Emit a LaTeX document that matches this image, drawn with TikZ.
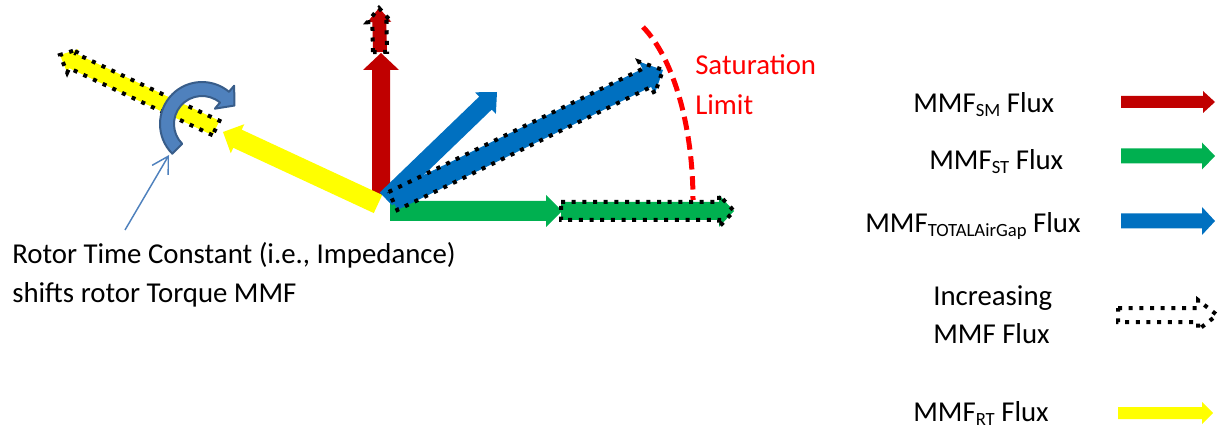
\documentclass[tikz,border=0pt]{standalone}
\usepackage{fontspec}
\setmainfont{Carlito}
\usetikzlibrary{calc,arrows.meta}
\definecolor{mred}{RGB}{192,0,0}
\definecolor{mgreen}{RGB}{0,176,80}
\definecolor{mblue}{RGB}{0,112,192}
\definecolor{myellow}{RGB}{255,255,0}
\definecolor{cfill}{RGB}{79,129,189}
\definecolor{cline}{RGB}{56,93,138}
\definecolor{satred}{RGB}{255,0,0}
\newcommand\barrow[6][]{%
  \pgfmathsetmacro\bsw{#4*0.75}%
  \pgfmathsetmacro\bhw{#5*0.75}%
  \pgfmathsetmacro\bhl{#6*0.75}%
  \coordinate (bq) at ($(#3)!\bhl pt!(#2)$);
  \path[#1] ($(#2)!\bsw pt!90:(#3)$) -- ($(bq)!\bsw pt!90:(#3)$) -- ($(bq)!\bhw pt!90:(#3)$) -- (#3)
    -- ($(bq)!\bhw pt!-90:(#3)$) -- ($(bq)!\bsw pt!-90:(#3)$) -- ($(#2)!\bsw pt!-90:(#3)$) -- cycle;
}
\newcommand\subt[1]{\raisebox{-3pt}{\fontsize{14}{14}\selectfont #1}}
\tikzset{
  dotline/.style={draw=black, line width=3pt, dash pattern=on 3pt off 5pt},
  txt/.style={font=\fontsize{21.6}{29}\selectfont, inner sep=0pt, anchor=base west},
  thinarrow/.style={draw=cfill, line width=1.1pt, -{Straight Barb[length=12pt,width=14pt]}},
  satline/.style={draw=satred, line width=3.75pt, dash pattern=on 10pt off 5pt},
  curvearrow/.style={fill=cfill, draw=cline, line width=1.5pt, line join=round},
}
\begin{document}
\begin{tikzpicture}[x=0.75pt,y=-0.75pt]
\useasboundingbox (0,0) rectangle (1225,431);
% vector endpoints
\coordinate (rA) at (381,195); \coordinate (rB) at (381,53);
\coordinate (rdA) at (380,52); \coordinate (rdB) at (379,8);
\coordinate (yA) at (378,204); \coordinate (yB) at (223,132);
\coordinate (ydA) at (216,128); \coordinate (ydB) at (60,55);
\coordinate (gA) at (390,211); \coordinate (gB) at (562,211);
\coordinate (gdA) at (561,211); \coordinate (gdB) at (734,211);
\coordinate (bA) at (386,199); \coordinate (bB) at (497,92);
\coordinate (bdA) at (393,201); \coordinate (bdB) at (663,70);
% vectors
\barrow[fill=mred]{rA}{rB}{9}{18}{17}
\barrow[fill=mred, dotline]{rdA}{rdB}{7}{12}{14}
\barrow[fill=myellow]{yA}{yB}{10}{16}{16}
\barrow[fill=myellow, dotline]{ydA}{ydB}{8}{13}{14}
\barrow[fill=mgreen]{gA}{gB}{10}{16}{16}
\barrow[fill=mgreen, dotline]{gdA}{gdB}{9}{16}{15}
\barrow[fill=mblue]{bA}{bB}{9}{15}{16}
\barrow[fill=mblue, dotline]{bdA}{bdB}{10}{18}{18}
% curved arrow
\coordinate (cc) at (202,124);
\path[curvearrow] ($(cc)+(-225:42)$) arc[start angle=-225, end angle=-50, radius=42]
  -- ($(cc)+(-50:50)$) -- ($(cc)+(-50:35)+(-140:-13)$) -- ($(cc)+(-50:20)$) -- ($(cc)+(-50:28)$)
  arc[start angle=-50, end angle=-225, radius=28] -- cycle;
% saturation limit
\coordinate (s1) at (643,27); \coordinate (s2) at (693,200);
\draw[satline] (s1) .. controls (675,60) and (693,130) .. (s2);
\node[txt, text=satred] (sat1) at (695,75) {Saturation};
\node[txt, text=satred] (sat2) at (695,115) {Limit};
% rotor annotation
\node[txt] (rot1) at (12,263) {Rotor Time Constant (i.e., Impedance)};
\node[txt] (rot2) at (12,302) {shifts rotor Torque MMF};
\coordinate (ta) at (125,230); \coordinate (tb) at (169,155);
\draw[thinarrow] (ta) -- (tb);
% legend
\node[txt] (l1) at (913,113) {MMF\subt{SM} Flux};
\node[txt] (l2) at (929,170) {MMF\subt{ST} Flux};
\node[txt] (l3) at (865,233) {MMF\subt{TOTALAirGap} Flux};
\node[txt] (l4a) at (933,305) {Increasing};
\node[txt] (l4b) at (933,343) {MMF Flux};
\node[txt] (l5) at (913,421) {MMF\subt{RT} Flux};
\coordinate (k1A) at (1121,102); \coordinate (k1B) at (1215,102);
\coordinate (k2A) at (1121,156); \coordinate (k2B) at (1215,156);
\coordinate (k3A) at (1121,221); \coordinate (k3B) at (1215,221);
\coordinate (k4A) at (1118,315); \coordinate (k4B) at (1217,315);
\coordinate (k5A) at (1118,413); \coordinate (k5B) at (1213,413);
\barrow[fill=mred]{k1A}{k1B}{6}{11}{12}
\barrow[fill=mgreen]{k2A}{k2B}{7.5}{13.5}{13}
\barrow[fill=mblue]{k3A}{k3B}{7.5}{14}{13}
\barrow[dotline]{k4A}{k4B}{7}{15}{19}
\barrow[fill=myellow]{k5A}{k5B}{6}{11}{11}
\end{tikzpicture}
\end{document}
